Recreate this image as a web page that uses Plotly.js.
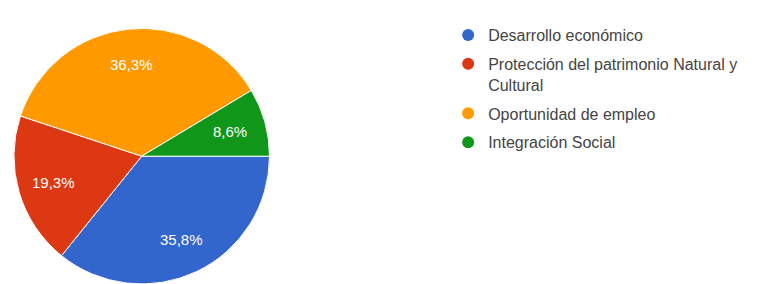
<!DOCTYPE html>
<html><head><meta charset="utf-8">
<script src="https://cdn.plot.ly/plotly-3.0.1.min.js"></script>
<style>html,body{margin:0;padding:0;background:#fff;overflow:hidden}#chart{width:757px;height:284px}</style>
</head><body><div id="chart"></div>
<script>
const categories = ["Desarrollo económico", "Protección del patrimonio Natural y Cultural", "Oportunidad de empleo", "Integración Social"];
const legendLabels = ["Desarrollo económico", "Protección del patrimonio Natural y<br>Cultural", "Oportunidad de empleo", "Integración Social"];
const percents = [35.8, 19.3, 36.3, 8.6];
const colors = ["#3366cc", "#dc3912", "#ff9900", "#109618"];

const W = 757, H = 284;
const dom = {x: [0.0184, 0.356], y: [0, 0.9]};

const traces = [{
  type: "pie",
  labels: categories,
  values: percents,
  sort: false,
  direction: "clockwise",
  rotation: 90,
  marker: {colors: colors, line: {color: "#ffffff", width: 1}},
  textinfo: "none",
  hoverinfo: "label+percent",
  showlegend: false,
  domain: dom
}];
categories.forEach((c, i) => {
  traces.push({
    type: "scatter", mode: "markers", x: [null], y: [null],
    name: legendLabels[i], legendgroup: "g" + i,
    marker: {color: colors[i], size: 14, symbol: "circle"},
    showlegend: true, hoverinfo: "skip"
  });
});

// slice labels placed at each slice's mid-angle, derived from the data
const total = percents.reduce((a, b) => a + b, 0);
const cx = (dom.x[0] + dom.x[1]) / 2 * W;
const cy = (dom.y[0] + dom.y[1]) / 2 * H;
const R = Math.min((dom.x[1] - dom.x[0]) * W, (dom.y[1] - dom.y[0]) * H) / 2;
let cum = 0;
const annotations = percents.map((p) => {
  const mid = (cum + p / 2) / total; cum += p;
  const ang = -mid * 2 * Math.PI; // clockwise from 3 o'clock
  const rr = 0.72 * R;
  return {
    xref: "paper", yref: "paper",
    x: (cx + rr * Math.cos(ang)) / W, y: (cy + rr * Math.sin(ang)) / H,
    text: (p / total * 100).toFixed(1).replace(".", ",") + "%",
    showarrow: false, xanchor: "center", yanchor: "middle",
    font: {color: "#ffffff", size: 15, family: "Liberation Sans, Arial, sans-serif"}
  };
});

const layout = {
  width: W, height: H,
  margin: {l: 0, r: 0, t: 0, b: 0},
  paper_bgcolor: "#ffffff", plot_bgcolor: "#ffffff",
  xaxis: {visible: false, domain: [0.6, 0.61]},
  yaxis: {visible: false},
  showlegend: true,
  annotations: annotations,
  legend: {
    x: 0.592, y: 0.9365, xanchor: "left", yanchor: "top", valign: "top",
    font: {family: "Liberation Sans, Arial, sans-serif", size: 16, color: "#444444"},
    tracegroupgap: 5, itemsizing: "constant", bgcolor: "rgba(0,0,0,0)"
  }
};
Plotly.newPlot("chart", traces, layout, {displayModeBar: false, staticPlot: true});
</script></body></html>
